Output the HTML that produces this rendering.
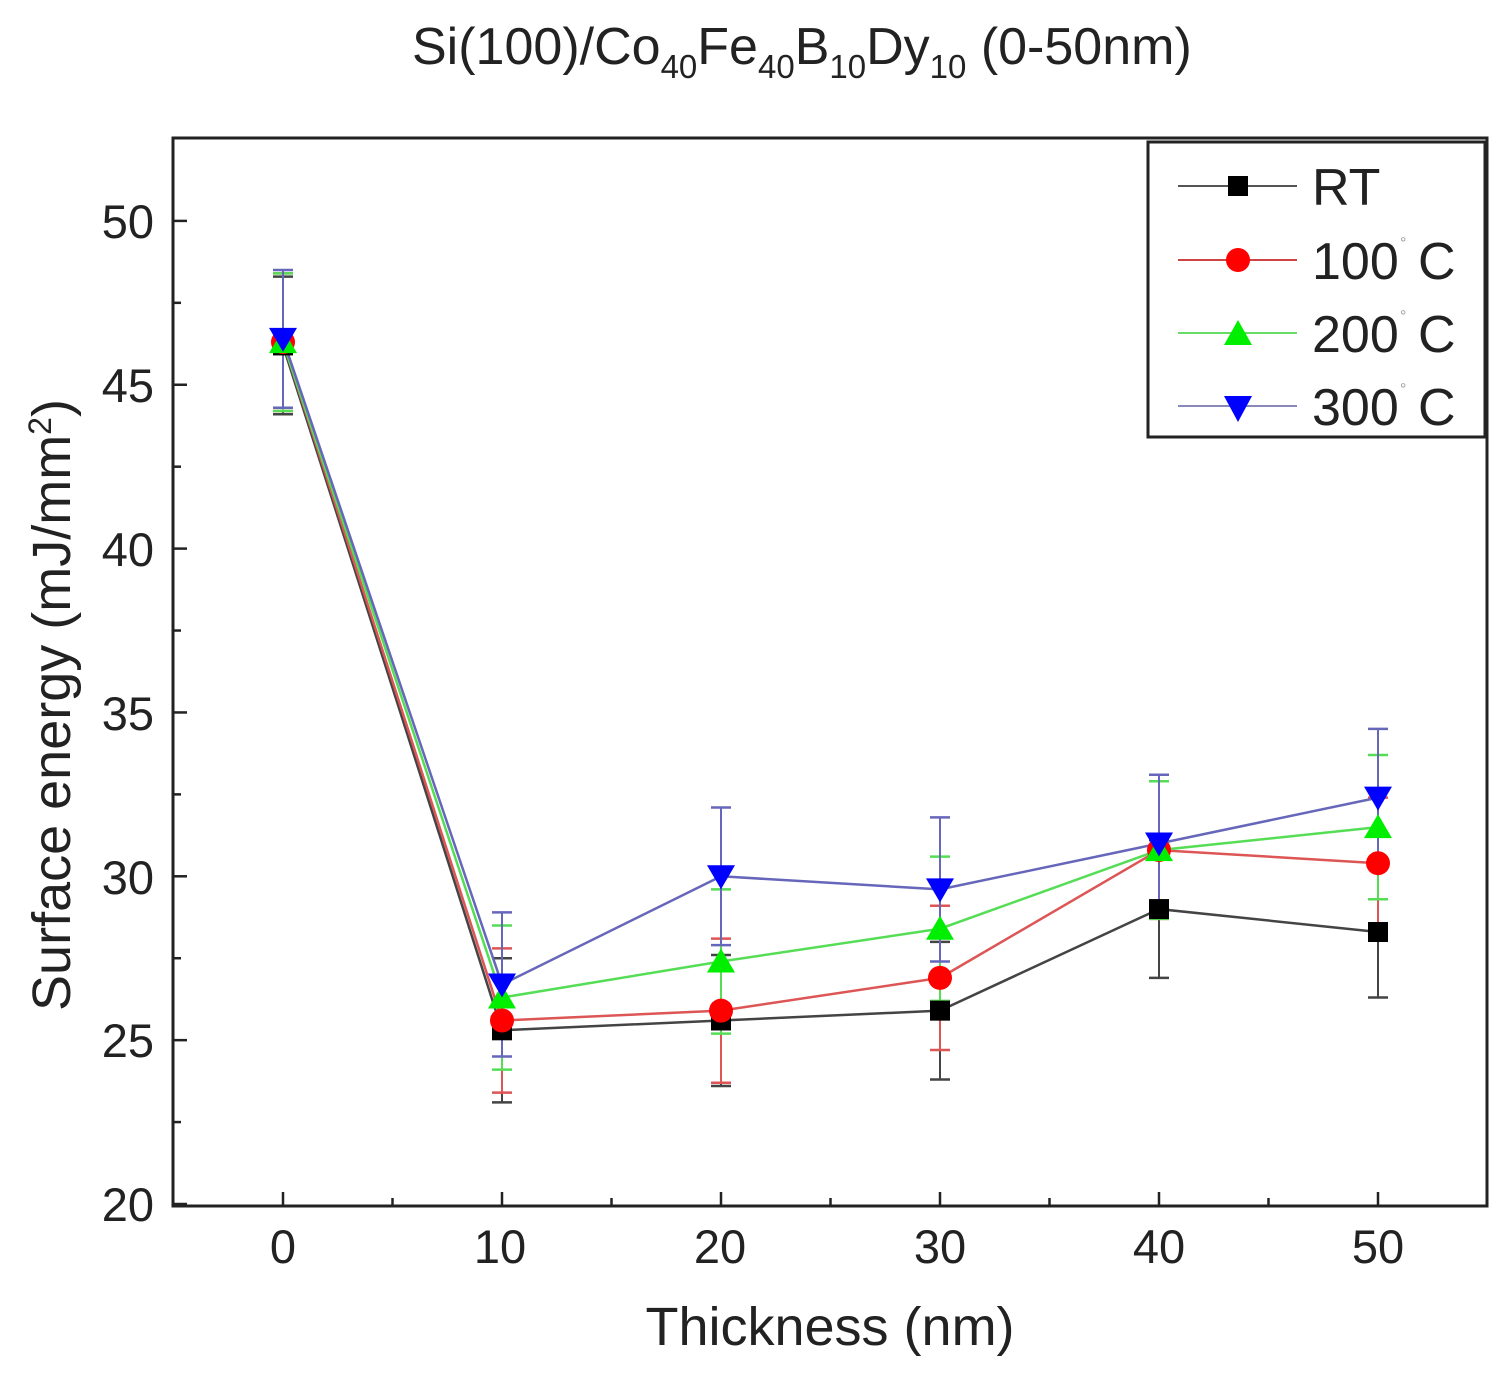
<!DOCTYPE html>
<html><head><meta charset="utf-8"><style>
html,body{margin:0;padding:0;background:#fff;}
svg{display:block;font-family:"Liberation Sans",sans-serif;}
</style></head><body>
<svg id="s" width="1506" height="1375" viewBox="0 0 1506 1375" xmlns="http://www.w3.org/2000/svg">
<rect width="1506" height="1375" fill="#fff"/>
<text x="412" y="64" font-size="52" fill="#222">Si(100)/Co<tspan font-size="33" dy="14">40</tspan><tspan dy="-14">Fe</tspan><tspan font-size="33" dy="14">40</tspan><tspan dy="-14">B</tspan><tspan font-size="33" dy="14">10</tspan><tspan dy="-14">Dy</tspan><tspan font-size="33" dy="14">10</tspan><tspan dy="-14"> (0-50nm)</tspan></text>
<g id="ticks" stroke="#222" stroke-width="2.5"></g>
<g font-size="47" fill="#222" text-anchor="end">
<text x="154" y="238">50</text><text x="154" y="402">45</text><text x="154" y="566">40</text><text x="154" y="730">35</text><text x="154" y="894">30</text><text x="154" y="1057">25</text><text x="154" y="1221">20</text>
</g>
<g font-size="47" fill="#222" text-anchor="middle">
<text x="283" y="1263">0</text><text x="500" y="1263">10</text><text x="720" y="1263">20</text><text x="940" y="1263">30</text><text x="1159" y="1263">40</text><text x="1378" y="1263">50</text>
</g>
<text x="830" y="1345" font-size="54" fill="#222" text-anchor="middle">Thickness (nm)</text>
<text transform="translate(70,705) rotate(-90)" font-size="54" fill="#222" text-anchor="middle">Surface energy (mJ/mm<tspan font-size="32" dy="-19">2</tspan><tspan dy="19">)</tspan></text>
<g id="data"></g>
<rect x="173" y="138" width="1314" height="1068" fill="none" stroke="#222" stroke-width="3"/>
<rect x="1148" y="142" width="337" height="295" fill="#fff" stroke="#222" stroke-width="3"/>
<g stroke-width="2">
<line x1="1178" y1="186" x2="1297" y2="186" stroke="#555"/>
<rect x="1228" y="176" width="20" height="20" fill="#000"/>
<line x1="1178" y1="260" x2="1297" y2="260" stroke="#c44"/>
<circle cx="1238" cy="260" r="12" fill="#f00"/>
<line x1="1178" y1="333" x2="1297" y2="333" stroke="#6d6"/>
<polygon points="1238,320 1252,345 1224,345" fill="#0e0"/>
<line x1="1178" y1="406" x2="1297" y2="406" stroke="#88b"/>
<polygon points="1224,396 1252,396 1238,422" fill="#00f"/>
</g>
<g font-size="52" fill="#222">
<text x="1312" y="205">RT</text>
<text x="1312" y="279">100</text><text x="1418" y="279">C</text>
<text x="1312" y="352">200</text><text x="1418" y="352">C</text>
<text x="1312" y="425">300</text><text x="1418" y="425">C</text>
</g>
<g font-size="16" fill="#999"><text x="1400" y="248">°</text><text x="1400" y="321">°</text><text x="1400" y="394">°</text></g>
</svg>
<script>
var NS="http://www.w3.org/2000/svg";
function el(p,t,a){var e=document.createElementNS(NS,t);for(var k in a)e.setAttribute(k,a[k]);p.appendChild(e);return e;}
function X(t){return 283+t*21.9;}
function Y(v){return 1204-(v-20)*32.77;}
var tk=document.getElementById("ticks");
for(var t=-5;t<=55;t+=5){var x=X(t);if(x<=175||x>=1485)continue;var L=(t%10==0)?14:8;el(tk,"line",{x1:x,y1:1206,x2:x,y2:1206-L});}
for(var v=20;v<=52.5;v+=2.5){var y=Y(v);if(y<140)continue;var L=(v%5==0)?14:8;el(tk,"line",{x1:173,y1:y,x2:173+L,y2:y});}
var T=[0,10,20,30,40,50];
var S=[
{c:"#000",l:"#444",m:"sq",d:[46.2,25.3,25.6,25.9,29.0,28.3],e:[2.1,2.2,2.0,2.1,2.1,2.0]},
{c:"#f00",l:"#d55",m:"ci",d:[46.3,25.6,25.9,26.9,30.8,30.4],e:[2.1,2.2,2.2,2.2,2.1,2.0]},
{c:"#0e0",l:"#5d5",m:"up",d:[46.3,26.3,27.4,28.4,30.8,31.5],e:[2.1,2.2,2.2,2.2,2.1,2.2]},
{c:"#00f",l:"#66b",m:"dn",d:[46.4,26.7,30.0,29.6,31.0,32.4],e:[2.1,2.2,2.1,2.2,2.1,2.1]}];
var g=document.getElementById("data");
S.forEach(function(s){
 var pts=T.map(function(t,i){return X(t)+","+Y(s.d[i]);}).join(" ");
 el(g,"polyline",{points:pts,fill:"none",stroke:s.l,"stroke-width":2.5});
 T.forEach(function(t,i){var x=X(t),a=Y(s.d[i]+s.e[i]),b=Y(s.d[i]-s.e[i]);
  el(g,"line",{x1:x,y1:a,x2:x,y2:b,stroke:s.l,"stroke-width":2});
  el(g,"line",{x1:x-10,y1:a,x2:x+10,y2:a,stroke:s.l,"stroke-width":2.5});
  el(g,"line",{x1:x-10,y1:b,x2:x+10,y2:b,stroke:s.l,"stroke-width":2.5});});
});
S.forEach(function(s){T.forEach(function(t,i){var x=X(t),y=Y(s.d[i]);
 if(s.m=="sq")el(g,"rect",{x:x-10,y:y-10,width:20,height:20,fill:s.c});
 else if(s.m=="ci")el(g,"circle",{cx:x,cy:y,r:12,fill:s.c});
 else if(s.m=="up")el(g,"polygon",{points:(x)+","+(y-13)+" "+(x+14)+","+(y+11)+" "+(x-14)+","+(y+11),fill:s.c});
 else el(g,"polygon",{points:(x-14)+","+(y-11)+" "+(x+14)+","+(y-11)+" "+(x)+","+(y+13),fill:s.c});
});});
</script>
</body></html>
